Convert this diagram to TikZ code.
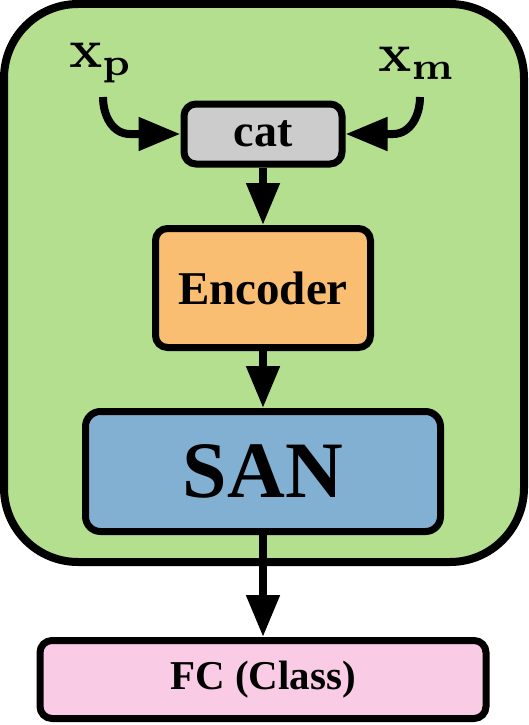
\documentclass[tikz,border=0pt]{standalone}
\usepackage[no-math]{fontspec}
\setmainfont{Liberation Serif}
\usetikzlibrary{arrows.meta, positioning}
\definecolor{panelgreen}{RGB}{179, 223, 143}
\definecolor{catgray}{RGB}{204, 204, 204}
\definecolor{encorange}{RGB}{250, 190, 115}
\definecolor{sanblue}{RGB}{130, 176, 210}
\definecolor{fcpink}{RGB}{249, 203, 228}
\newcommand{\biginput}[1]{\scalebox{5.5}{$\mathbf{x}_{\mathbf{#1}}$}}

\begin{document}
\begin{tikzpicture}[x=1pt, y=-1pt,
    block/.style={draw, line width=7pt, rounded corners=12pt, inner sep=0pt, font=\bfseries},
    flow/.style={line width=8pt, -{Triangle[length=42pt, width=32pt]}},
    inlabel/.style={inner sep=0pt}]
    \useasboundingbox (0,0) rectangle (528,725);

    % Outer panel
    \draw[line width=8pt, fill=panelgreen, rounded corners=74pt] (4,4) rectangle (524,562);

    % Blocks
    \node[block, fill=catgray, minimum width=158pt, minimum height=60pt,
        font=\bfseries\fontsize{46}{50}\selectfont] (cat) at (263,134) {cat};
    \node[block, fill=encorange, minimum width=215pt, minimum height=119pt,
        font=\bfseries\fontsize{47}{50}\selectfont] (enc) at (263,288) {Encoder};
    \node[block, fill=sanblue, minimum width=355pt, minimum height=120pt, rounded corners=15pt,
        font=\bfseries\fontsize{80}{90}\selectfont] (san) at (263,471.5) {SAN};
    \node[block, fill=fcpink, minimum width=446pt, minimum height=78pt,
        font=\bfseries\fontsize{41}{45}\selectfont] (fc) at (263,679.5) {FC (Class)};

    % Inputs
    \node[inlabel] (xp) at (101,63) {\biginput{p}};
    \node[inlabel] (xm) at (417,63) {\biginput{m}};
    \coordinate (inP) at (103,97);
    \coordinate (bendP) at (130,134);
    \coordinate (inM) at (420,97);
    \coordinate (bendM) at (393,134);

    % Arrows
    \draw[flow] (inP) to[out=-90, in=180] (bendP) -- (cat.west);
    \draw[flow] (inM) to[out=-90, in=0] (bendM) -- (cat.east);
    \draw[flow] (cat) -- (enc);
    \draw[flow] (enc) -- (san);
    \draw[flow] (san) -- (fc);
\end{tikzpicture}
\end{document}
